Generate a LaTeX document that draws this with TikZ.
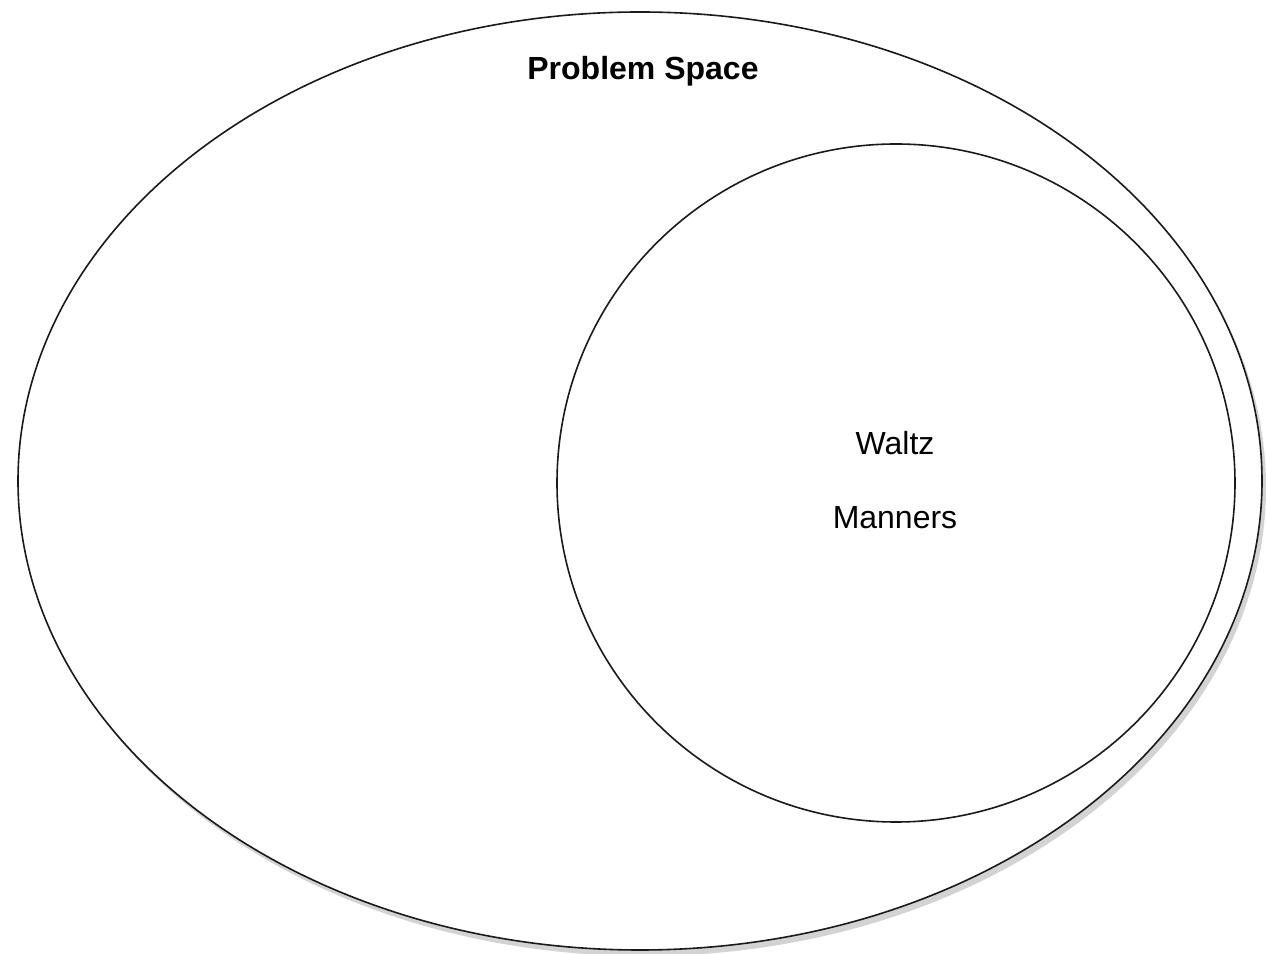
\documentclass[tikz,border=0pt]{standalone}
\usepackage{fontspec}
\setmainfont{Liberation Sans}
\usepackage{tikz}
\usetikzlibrary{positioning,shapes.geometric,shadows}
\usepackage{xcolor}
\definecolor{outline}{HTML}{1A1A1A}

\begin{document}
\begin{tikzpicture}[x=0.5pt, y=0.5pt,
      region/.style={draw=outline, line width=0.8pt, fill=white, inner sep=0pt},
      label/.style={font=\fontsize{16}{19}\selectfont, inner sep=0pt}
    ]
      \useasboundingbox (0,0) rectangle (1266,954);

      % outer problem space with its soft shadow
      \node[region, ellipse, minimum width=622pt, minimum height=469pt,
            drop shadow={shadow xshift=2pt, shadow yshift=-3pt, opacity=0.35}]
        (space) at (640,473) {};

      % inner circle
      \node[region, circle, minimum size=339pt] (inner) at (896,471) {};

      \node[label, font=\fontsize{16}{19}\selectfont\bfseries] (title) at (643,883) {Problem Space};
      \node[label] (waltz) at (895,511) {Waltz};
      \node[label] (manners) at (895,436) {Manners};
    \end{tikzpicture}
\end{document}
